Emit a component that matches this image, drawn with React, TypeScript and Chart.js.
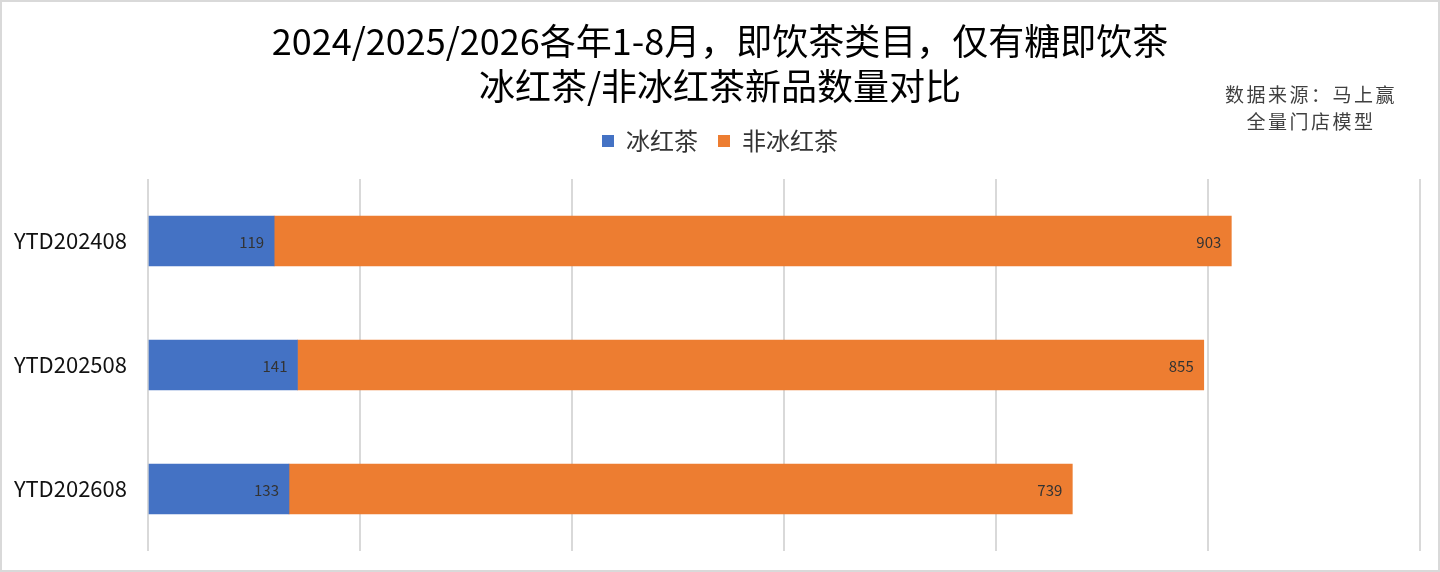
import React, { useEffect, useRef } from "react";
import { Chart, registerables } from "chart.js";

Chart.register(...registerables);

const categories = ["YTD202408", "YTD202508", "YTD202608"];
const iceTea = [119, 141, 133];
const nonIceTea = [903, 855, 739];
const seriesNames = ["冰红茶", "非冰红茶"];
const titleLines = ["2024/2025/2026各年1-8月，即饮茶类目，仅有糖即饮茶", "冰红茶/非冰红茶新品数量对比"];
const sourceLines = ["数据来源：马上赢", "全量门店模型"];

const FONT = "'Noto Sans CJK SC', 'Noto Sans', sans-serif";

const labelPlugin = {
  id: "barLabels",
  afterDatasetsDraw(chart: any) {
    const ctx = chart.ctx;
    ctx.save();
    ctx.font = `15px ${FONT}`;
    ctx.fillStyle = "#333333";
    ctx.textAlign = "right";
    ctx.textBaseline = "middle";
    chart.data.datasets.forEach((ds: any, i: number) => {
      const meta = chart.getDatasetMeta(i);
      meta.data.forEach((el: any, j: number) => {
        const { x, y } = el.getProps(["x", "y"], true);
        ctx.fillText(String(ds.data[j]), x - 10, y + 1);
      });
    });
    ctx.restore();
  },
};

export default function App() {
  const ref = useRef<HTMLCanvasElement | null>(null);
  useEffect(() => {
    if (!ref.current) return;
    const chart = new Chart(ref.current, {
      type: "bar",
      data: {
        labels: categories,
        datasets: [
          { label: seriesNames[0], data: iceTea, backgroundColor: "#4472C4", barThickness: 50 },
          { label: seriesNames[1], data: nonIceTea, backgroundColor: "#ED7D31", barThickness: 50 },
        ],
      },
      options: {
        indexAxis: "y",
        animation: false,
        responsive: false,
        maintainAspectRatio: false,
        layout: { padding: { left: 0, right: 0, top: 0, bottom: 19 } },
        plugins: {
          title: {
            display: true,
            text: titleLines,
            color: "#000000",
            font: { family: FONT, size: 36, weight: "normal", lineHeight: 1.25 },
            padding: { top: 17, bottom: 0 },
          },
          subtitle: {
            display: true,
            text: " ",
            weight: 500,
            font: { size: 1, lineHeight: 1 },
            padding: { top: 15, bottom: 0 },
          } as any,
          legend: {
            display: true,
            position: "top",
            labels: {
              color: "#333333",
              font: { family: FONT, size: 24 },
              boxWidth: 12,
              boxHeight: 12,
              padding: 20,
            },
          },
          tooltip: { enabled: false },
        },
        scales: {
          x: {
            stacked: true,
            min: 0,
            max: 1200,
            ticks: { display: false, stepSize: 200 },
            grid: { color: "#d9d9d9", lineWidth: 2, drawTicks: false },
            border: { display: false },
            afterFit(scale: any) {
              scale.paddingRight = 18;
              scale.paddingLeft = 0;
            },
          },
          y: {
            stacked: true,
            ticks: { color: "#111111", font: { family: FONT, size: 22 }, padding: 21 },
            grid: { display: false, drawTicks: false },
            border: { display: false },
            afterFit(scale: any) {
              scale.width = 146;
              scale.paddingTop = 0;
              scale.paddingBottom = 0;
            },
          },
        },
      },
      plugins: [labelPlugin],
    });
    return () => chart.destroy();
  }, []);

  return (
    <div
      style={{
        position: "fixed",
        left: 0,
        top: 0,
        width: 1440,
        height: 572,
        boxSizing: "border-box",
        border: "2px solid #d9d9d9",
        background: "#ffffff",
        overflow: "hidden",
      }}
    >
      <canvas ref={ref} width={1436} height={568} style={{ position: "absolute", left: 0, top: 0 }} />
      <div
        style={{
          position: "absolute",
          left: 1189,
          width: 240,
          top: 78,
          textAlign: "center",
          fontFamily: FONT,
          fontSize: 19,
          lineHeight: "27px",
          letterSpacing: "2.5px",
          color: "#404040",
        }}
      >
        {sourceLines.map((s) => (
          <div key={s}>{s}</div>
        ))}
      </div>
    </div>
  );
}
